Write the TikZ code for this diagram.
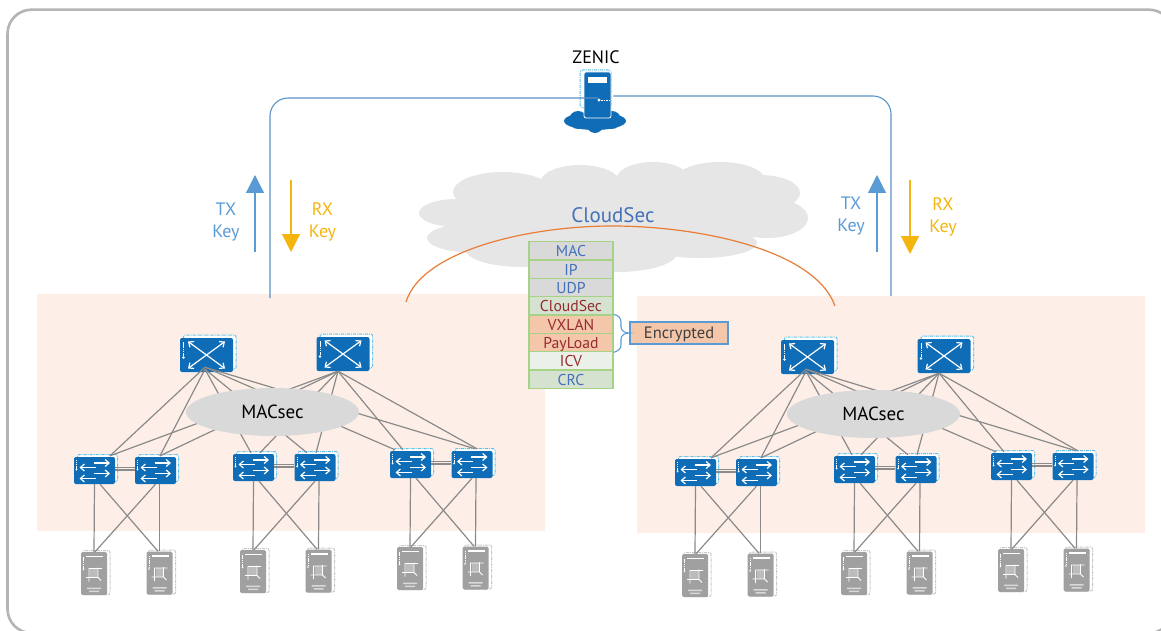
\documentclass[tikz,border=0pt]{standalone}
\usepackage{fontspec}
\setmainfont{PT Sans}
\usetikzlibrary{calc,arrows.meta,shapes.geometric}
\definecolor{podfill}{HTML}{FDEFE7}
\definecolor{devblue}{HTML}{0F6CB6}
\definecolor{dashblue}{HTML}{5CC0E8}
\definecolor{srvgrey}{HTML}{A0A0A0}
\definecolor{linkgrey}{HTML}{8A8A8A}
\definecolor{ctrl}{HTML}{5B92C9}
\definecolor{keyblue}{HTML}{5B9BD5}
\definecolor{keyyellow}{HTML}{F5B50F}
\definecolor{txtblue}{HTML}{4472B8}
\definecolor{txtred}{HTML}{962B2E}
\definecolor{stackline}{HTML}{A6D285}
\definecolor{peach}{HTML}{F4C7AB}
\definecolor{cloudgrey}{HTML}{E7E6E7}
\definecolor{ellgrey}{HTML}{D9D9D9}
\definecolor{palegreen}{HTML}{D5E2D0}
\definecolor{paleicv}{HTML}{EBF0E8}
\definecolor{arcorange}{HTML}{E87D37}
\tikzset{
  x=1pt,y=-1pt,
  spinebox/.style={draw=none,fill=devblue,rounded corners=2pt,minimum width=53pt,minimum height=34pt,inner sep=0pt},
  leafbox/.style={draw=none,fill=devblue,rounded corners=2pt,minimum width=41pt,minimum height=27pt,inner sep=0pt},
  srvbox/.style={draw=none,fill=srvgrey,rounded corners=1.5pt,minimum width=26pt,minimum height=43pt,inner sep=0pt},
  backdash/.style={draw=#1,line width=1pt,dash pattern=on 3pt off 1pt on 1pt off 1pt,rounded corners=2pt,fill=white},
  glyph/.style={draw=white,line width=1.2pt,-{Straight Barb[length=4pt,width=7pt]}},
  link/.style={draw=linkgrey,line width=1.2pt},
  ctrlline/.style={draw=ctrl,line width=1.1pt,rounded corners=18pt},
  keyarrow/.style={line width=1.2pt,-{Triangle[length=18pt,width=18pt]}},
  lbl/.style={inner sep=0pt},
  keylbl/.style={inner sep=0pt,align=center,font=\fontsize{18}{22}\selectfont},
  layer/.style={draw=stackline,line width=1.3pt,minimum width=84pt,minimum height=18.33pt,inner sep=0pt,text height=14pt,text depth=2pt,font=\fontsize{15.7}{17}\selectfont},
}
% name, x centre, y centre
\newcommand{\spineicon}[3]{%
  \path[backdash=dashblue] (#2-23,#3-20) rectangle (#2+29.5,#3+14);
  \node[spinebox] (#1) at (#2,#3) {};
  \begin{scope}[shift={(#2,#3)}]
    \draw[glyph] (0,0) -- (18.5,-13.5); \draw[glyph] (0,0) -- (-18.5,-13.5);
    \draw[glyph] (0,0) -- (18.5,13.5);  \draw[glyph] (0,0) -- (-18.5,13.5);
    \draw[white,line width=1pt,dash pattern=on 1.5pt off .7pt] (-23,-13) -- (-23,1);
    \fill[white] (-23,2.5) circle (1.3pt);
  \end{scope}}
\newcommand{\leaficon}[3]{%
  \path[backdash=dashblue] (#2-17,#3-16) rectangle (#2+23,#3+11);
  \node[leafbox] (#1) at (#2,#3) {};
  \begin{scope}[shift={(#2,#3)}]
    \draw[glyph] (-1,-7.5) -- (15.5,-7.5); \draw[glyph] (1,-3) -- (-15,-3);
    \draw[glyph] (-1,3) -- (15.5,3);   \draw[glyph] (1,8) -- (-15,8);
    \draw[white,line width=.8pt,dash pattern=on 1.5pt off .7pt] (-18,-11) -- (-18,-2);
    \fill[white] (-18,-1) circle (1pt);
  \end{scope}}
\newcommand{\srvicon}[3]{%
  \path[backdash=srvgrey!60] (#2-11,#3-23) rectangle (#2+16,#3+21);
  \node[srvbox] (#1) at (#2,#3) {};
  \begin{scope}[shift={(#2,#3)}]
    \fill[white] (-8,-18) rectangle (9,-16.5);
    \draw[white,line width=.7pt,dash pattern=on 1.2pt off .6pt] (-10.5,-17) -- (-10.5,-5);
    \fill[white] (-10.5,-4) circle (.9pt);
    \fill[white,opacity=.3] (-4,-5) rectangle (4,4);
    \draw[white,line width=.9pt] (-8,4) -- (4,4) -- (4,-6) (-5,8) -- (-5,-5) -- (8,-5) (4,4) -- (7,7);
    \fill[white,opacity=.6] (-7,14) rectangle (7,15.5) (-5,17) rectangle (5,18.5);
  \end{scope}}
% prefix, dx, dy
\newcommand{\pod}[3]{%
\begin{scope}[shift={(#2,#3)}]
  \srvicon{#1a}{94}{573.5} \srvicon{#1b}{159.5}{573} \srvicon{#1c}{253}{571.5}
  \srvicon{#1d}{318.5}{571} \srvicon{#1e}{410}{568.5} \srvicon{#1f}{475.5}{568}
  \leaficon{#1p}{94.5}{470.5} \leaficon{#1q}{155.5}{470.5} \leaficon{#1r}{253.5}{467.5}
  \leaficon{#1s}{315}{467.5} \leaficon{#1t}{410.5}{464.5} \leaficon{#1u}{472}{464.5}
  \spineicon{#1x}{206.5}{355} \spineicon{#1y}{343}{354}
  % spine to leaf
  \draw[link] ([xshift=-1.5pt,yshift=5pt]#1x.south) -- ([xshift=15.5pt,yshift=1pt]#1p.north);
  \draw[link] ([xshift=-1.5pt,yshift=3pt]#1x.south) -- ([xshift=4.5pt,yshift=1pt]#1q.north);
  \draw[link] ([xshift=-1.5pt,yshift=3pt]#1x.south) -- ([xshift=-2.5pt,yshift=1pt]#1r.north);
  \draw[link] ([xshift=-1.5pt,yshift=3pt]#1x.south) -- ([xshift=-8pt,yshift=1pt]#1s.north);
  \draw[link] ([xshift=-1.5pt,yshift=5pt]#1x.south) -- ([xshift=-15.5pt,yshift=1pt]#1t.north);
  \draw[link] ([xshift=-1.5pt,yshift=5pt]#1x.south) -- ([xshift=3pt,yshift=2pt]#1u.north);
  \draw[link] ([xshift=-5pt]#1y.south) -- ([xshift=15.5pt,yshift=1pt]#1p.north);
  \draw[link] ([xshift=-5pt]#1y.south) -- ([xshift=4.5pt,yshift=1pt]#1q.north);
  \draw[link] ([xshift=-5pt]#1y.south) -- ([xshift=6.5pt,yshift=1pt]#1r.north);
  \draw[link] ([xshift=-5pt]#1y.south) -- ([xshift=1pt,yshift=1pt]#1s.north);
  \draw[link] ([xshift=-5pt]#1y.south) -- ([xshift=-7.5pt,yshift=1pt]#1t.north);
  \draw[link] ([xshift=-5pt]#1y.south) -- ([xshift=5pt,yshift=2pt]#1u.north);
  % peer links
  \foreach \m/\n in {p/q,r/s,t/u}{
    \draw[link] ([yshift=3pt]#1\m.east) -- ([yshift=3pt]#1\n.west);
    \draw[link] ([yshift=.5pt]#1\m.east) -- ([yshift=.5pt]#1\n.west);
  }
  % leaf to server
  \foreach \m/\n/\o/\k in {p/q/a/b,r/s/c/d,t/u/e/f}{
    \draw[link] (#1\m.south) -- (#1\o.north);
    \draw[link] ([xshift=5.5pt]#1\m.south) -- ([xshift=-1.5pt]#1\k.north);
    \draw[link] (#1\n.south) -- ([xshift=1pt]#1\o.north);
    \draw[link] ([xshift=4pt]#1\n.south) -- (#1\k.north);
  }
  \node[fill=ellgrey,ellipse,minimum width=173pt,minimum height=48pt,inner sep=0pt,font=\fontsize{19}{21}\selectfont] (#1m) at (272.5,412) {MACsec};
\end{scope}}
\begin{document}
\begin{tikzpicture}
\useasboundingbox (0,0) rectangle (1161,631);
\fill[white] (0,0) rectangle (1161,631);
\draw[draw=black!29,line width=2.6pt,rounded corners=24pt] (7.5,9.7) rectangle (1173,633);
% pods
\fill[podfill] (37,294) rectangle (545,531);
\fill[podfill] (637,296) rectangle (1145,533);
% cloud
\fill[cloudgrey] (457,213) ellipse [x radius=38,y radius=14]
 (503,192) ellipse [x radius=50,y radius=20]
 (580,183) ellipse [x radius=40,y radius=18]
 (653,180) ellipse [x radius=37,y radius=18]
 (720,180) ellipse [x radius=45,y radius=18]
 (760,193) ellipse [x radius=40,y radius=18]
 (767,218) ellipse [x radius=41,y radius=20]
 (477,238) ellipse [x radius=50,y radius=15]
 (523,250) ellipse [x radius=57,y radius=17]
 (617,253) ellipse [x radius=60,y radius=19]
 (700,243) ellipse [x radius=57,y radius=15]
 (613,213) ellipse [x radius=150,y radius=37];
\node[lbl,text=txtblue,font=\fontsize{21}{23}\selectfont] (cs) at (613,215) {CloudSec};
% controller
\fill[devblue] (595,121) ellipse [x radius=31,y radius=9] (578,120) circle (9) (612,120) circle (9) (595,125) circle (8);
\draw[dashblue,line width=1pt,dash pattern=on 3pt off 1pt on 1pt off 1pt,rounded corners=3pt] (580,70) rectangle (611,108);
\node[draw=white,line width=.8pt,fill=devblue,rounded corners=2pt,minimum width=27pt,minimum height=46pt,inner sep=0pt] (zenic) at (597.5,95) {};
\fill[white] (588,77) rectangle (607,83);
\fill[white] (599,100) circle (1.6pt);
\draw[white,line width=.8pt,dash pattern=on 1.5pt off 1pt] (601,100) -- (610,100);
\node[lbl,font=\fontsize{18}{20}\selectfont] (zt) at (596,57) {ZENIC};
\coordinate (cl) at (270,298);
\coordinate (cr) at (891,296);
\coordinate (zl) at ([yshift=-3pt]zenic.center);
\coordinate (zr) at ([xshift=2pt,yshift=-1pt]zenic.east);
\draw[ctrlline] (cl) -- (cl |- zl) -- (zl);
\draw[ctrlline] (cr) -- (cr |- zr) -- (zr);
% keys
\coordinate (ta) at (255,252); \coordinate (tb) at (255,175);
\coordinate (ra) at (291,180); \coordinate (rb) at (291,252);
\coordinate (tc) at (877,252); \coordinate (td) at (877,175);
\coordinate (rc) at (910,180); \coordinate (rd) at (910,254);
\draw[keyarrow,keyblue] (ta) -- (tb);
\draw[keyarrow,keyyellow] (ra) -- (rb);
\draw[keyarrow,keyblue] (tc) -- (td);
\draw[keyarrow,keyyellow] (rc) -- (rd);
\node[keylbl,text=keyblue] (t1) at (226,222) {TX\\Key};
\node[keylbl,text=keyyellow] (r1) at (322.5,222) {RX\\Key};
\node[keylbl,text=keyblue] (t2) at (851,216.5) {TX\\Key};
\node[keylbl,text=keyyellow] (r2) at (943,216.5) {RX\\Key};
% pods
\pod{l}{0}{0}
\pod{k}{601}{2}
% orange arc
\coordinate (al) at (406,302); \coordinate (ar) at (835,306);
\draw[arcorange,line width=1.2pt] (al) .. controls (422,250) and (530,226) .. (612,226) .. controls (700,226) and (815,250) .. (ar);
% stack
\foreach \n/\t/\f/\c [count=\i from 0] in {mac/MAC/ellgrey/txtblue,ip/IP/ellgrey/txtblue,udp/UDP/ellgrey/txtblue,cs2/CloudSec/palegreen/txtred,vx/VXLAN/peach/txtred,pl/PayLoad/peach/txtred,icv/ICV/paleicv/txtred,crc/CRC/palegreen/txtblue}
  \node[layer,fill=\f,text=\c] (\n) at (571,250.9+18.33*\i) {\t};
\node[draw=keyblue,line width=1.2pt,fill=peach,minimum width=98pt,minimum height=22pt,inner sep=0pt,text=black!75,text height=11pt,text depth=1pt,font=\fontsize{16.5}{18}\selectfont] (enc) at (679,333) {Encrypted};
\draw[keyblue,line width=1.1pt] (vx.north east) .. controls (618,315) and (621,318) .. (621,322) -- (621,327) .. controls (621,331) and (625,333) .. (enc.west) .. controls (625,333) and (621,335) .. (621,339) -- (621,345) .. controls (621,349) and (618,351) .. (pl.south east);
\end{tikzpicture}
\end{document}
